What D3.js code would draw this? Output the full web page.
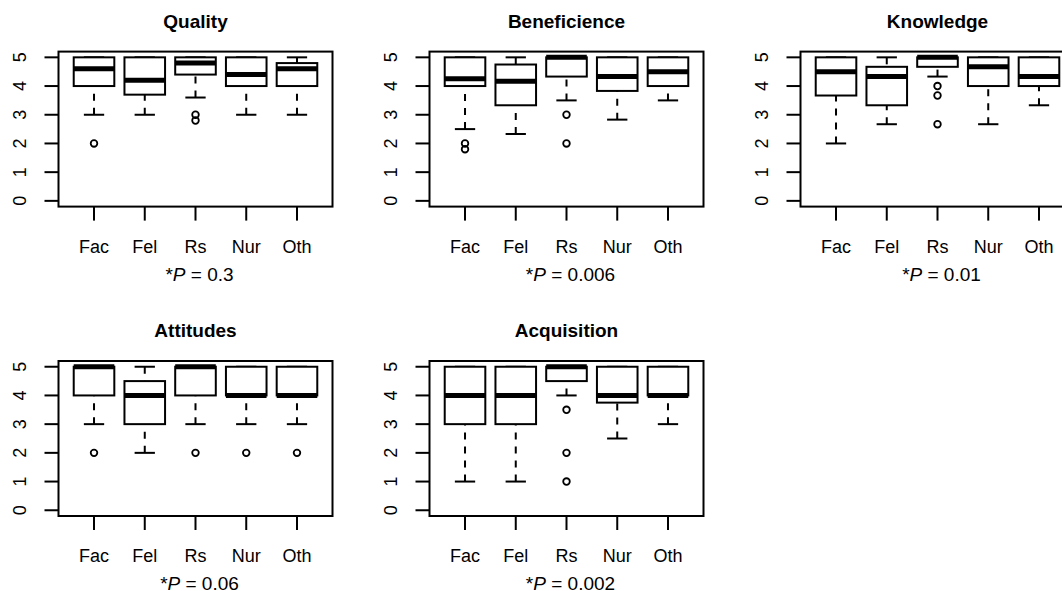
<!DOCTYPE html>
<html>
<head>
<meta charset="utf-8">
<script src="https://cdn.jsdelivr.net/npm/d3@7"></script>
<style>
    body { margin: 0; background: #fff; }
    svg { display: block; }
    text { font-family: "Liberation Sans", Arial, Helvetica, sans-serif; fill: #000; }
</style>
</head>
<body>
<svg id="chart"></svg>
<script>
const WIDTH = 1062;
const HEIGHT = 591;

const groups = ['Fac', 'Fel', 'Rs', 'Nur', 'Oth'];
const titles = ['Quality', 'Beneficience', 'Knowledge', 'Attitudes', 'Acquisition'];
const pValues = ['0.3', '0.006', '0.01', '0.06', '0.002'];
const yTicks = [0, 1, 2, 3, 4, 5];

// each group: [lower whisker, Q1, median, Q3, upper whisker]
const quality = [[3, 4, 4.6, 5, 5], [3, 3.7, 4.2, 5, 5], [3.6, 4.4, 4.8, 5, 5], [3, 4, 4.4, 5, 5], [3, 4, 4.6, 4.8, 5]];
const qualityOut = [[2], [], [3, 2.8], [], []];

const beneficience = [[2.5, 4, 4.25, 5, 5], [2.33, 3.33, 4.17, 4.75, 5], [3.5, 4.33, 5, 5, 5], [2.83, 3.83, 4.33, 5, 5], [3.5, 4, 4.5, 5, 5]];
const beneficienceOut = [[2, 1.8], [], [3, 2], [], []];

const knowledge = [[2, 3.67, 4.5, 5, 5], [2.67, 3.33, 4.33, 4.67, 5], [4.33, 4.67, 5, 5, 5], [2.67, 4, 4.67, 5, 5], [3.33, 4, 4.33, 5, 5]];
const knowledgeOut = [[], [], [4, 3.67, 2.67], [], []];

const attitudes = [[3, 4, 5, 5, 5], [2, 3, 4, 4.5, 5], [3, 4, 5, 5, 5], [3, 4, 4, 5, 5], [3, 4, 4, 5, 5]];
const attitudesOut = [[2], [], [2], [2], [2]];

const acquisition = [[1, 3, 4, 5, 5], [1, 3, 4, 5, 5], [4, 4.5, 5, 5, 5], [2.5, 3.75, 4, 5, 5], [3, 4, 4, 5, 5]];
const acquisitionOut = [[], [], [3.5, 2, 1], [], []];

const panelStats = [quality, beneficience, knowledge, attitudes, acquisition];
const panelOut = [qualityOut, beneficienceOut, knowledgeOut, attitudesOut, acquisitionOut];

// layout (R style 2x3 grid)
const PLOT_W = 274;
const PLOT_H = 155;
const COL_X = [58.5, 429.5, 800.5];
const ROW_Y = [51.6, 361];

let svg = d3.select('#chart')
    .attr('width', WIDTH)
    .attr('height', HEIGHT);

titles.forEach((title, p) => {
    let left = COL_X[p % 3];
    let top = ROW_Y[Math.floor(p / 3)];
    drawPanel(left, top, title, pValues[p], panelStats[p], panelOut[p]);
});

function drawPanel(left, top, title, pValue, stats, outliers) {
    let bottom = top + PLOT_H;
    let right = left + PLOT_W;

    let x = d3.scaleLinear()
        .domain([0.3, 5.7])
        .range([left, right]);
    let y = d3.scaleLinear()
        .domain([-0.2, 5.2])
        .range([bottom, top]);

    let boxW = (x(1) - x(0)) * 0.8;
    let stapleW = boxW / 2;

    let g = svg.append('g');

    // y axis ticks + rotated labels
    let yAxis = g.append('g');
    yAxis.selectAll('line')
        .data(yTicks)
        .enter().append('line')
            .attr('x1', left - 14).attr('x2', left)
            .attr('y1', d => y(d)).attr('y2', d => y(d))
            .attr('stroke', '#000').attr('stroke-width', 2);
    yAxis.selectAll('text')
        .data(yTicks)
        .enter().append('text')
            .attr('transform', d => `translate(${left - 32.5}, ${y(d)}) rotate(-90)`)
            .attr('text-anchor', 'middle')
            .attr('font-size', 18)
            .text(d => d);

    // x axis ticks + labels
    let xAxis = g.append('g');
    xAxis.selectAll('line')
        .data(groups)
        .enter().append('line')
            .attr('x1', (d, i) => x(i + 1)).attr('x2', (d, i) => x(i + 1))
            .attr('y1', bottom).attr('y2', bottom + 14)
            .attr('stroke', '#000').attr('stroke-width', 2);
    xAxis.selectAll('text')
        .data(groups)
        .enter().append('text')
            .attr('x', (d, i) => x(i + 1))
            .attr('y', bottom + 46)
            .attr('text-anchor', 'middle')
            .attr('font-size', 18)
            .text(d => d);

    // boxes
    let boxes = g.selectAll('g.box')
        .data(stats)
        .enter().append('g')
            .attr('class', 'box');

    boxes.append('line')
        .attr('x1', (d, i) => x(i + 1)).attr('x2', (d, i) => x(i + 1))
        .attr('y1', d => y(d[0])).attr('y2', d => y(d[1]))
        .attr('stroke', '#000').attr('stroke-width', 2)
        .attr('stroke-dasharray', '7,7');
    boxes.append('line')
        .attr('x1', (d, i) => x(i + 1)).attr('x2', (d, i) => x(i + 1))
        .attr('y1', d => y(d[4])).attr('y2', d => y(d[3]))
        .attr('stroke', '#000').attr('stroke-width', 2)
        .attr('stroke-dasharray', '7,7');
    boxes.append('line')
        .attr('x1', (d, i) => x(i + 1) - stapleW / 2).attr('x2', (d, i) => x(i + 1) + stapleW / 2)
        .attr('y1', d => y(d[0])).attr('y2', d => y(d[0]))
        .attr('stroke', '#000').attr('stroke-width', 2);
    boxes.append('line')
        .attr('x1', (d, i) => x(i + 1) - stapleW / 2).attr('x2', (d, i) => x(i + 1) + stapleW / 2)
        .attr('y1', d => y(d[4])).attr('y2', d => y(d[4]))
        .attr('stroke', '#000').attr('stroke-width', 2);
    boxes.append('rect')
        .attr('x', (d, i) => x(i + 1) - boxW / 2)
        .attr('width', boxW)
        .attr('y', d => y(d[3]))
        .attr('height', d => y(d[1]) - y(d[3]))
        .attr('fill', '#fff')
        .attr('stroke', '#000').attr('stroke-width', 2);
    boxes.append('line')
        .attr('x1', (d, i) => x(i + 1) - boxW / 2).attr('x2', (d, i) => x(i + 1) + boxW / 2)
        .attr('y1', d => y(d[2])).attr('y2', d => y(d[2]))
        .attr('stroke', '#000').attr('stroke-width', 5);

    // outliers
    outliers.forEach((vals, i) => {
        g.selectAll(null)
            .data(vals)
            .enter().append('circle')
                .attr('cx', x(i + 1))
                .attr('cy', d => y(d))
                .attr('r', 3.3)
                .attr('fill', 'none')
                .attr('stroke', '#000').attr('stroke-width', 1.8);
    });

    // frame
    g.append('rect')
        .attr('x', left).attr('y', top)
        .attr('width', PLOT_W).attr('height', PLOT_H)
        .attr('fill', 'none')
        .attr('stroke', '#000').attr('stroke-width', 2);

    // title
    g.append('text')
        .attr('x', (left + right) / 2)
        .attr('y', top - 24)
        .attr('text-anchor', 'middle')
        .attr('font-size', 19)
        .attr('font-weight', 'bold')
        .text(title);

    // p-value line
    let pText = g.append('text')
        .attr('x', (left + right) / 2 + 4)
        .attr('y', bottom + 74)
        .attr('text-anchor', 'middle')
        .attr('font-size', 19);
    pText.append('tspan').text('*');
    pText.append('tspan').attr('font-style', 'italic').text('P');
    pText.append('tspan').text(' = ' + pValue);
}
</script>
</body>
</html>
